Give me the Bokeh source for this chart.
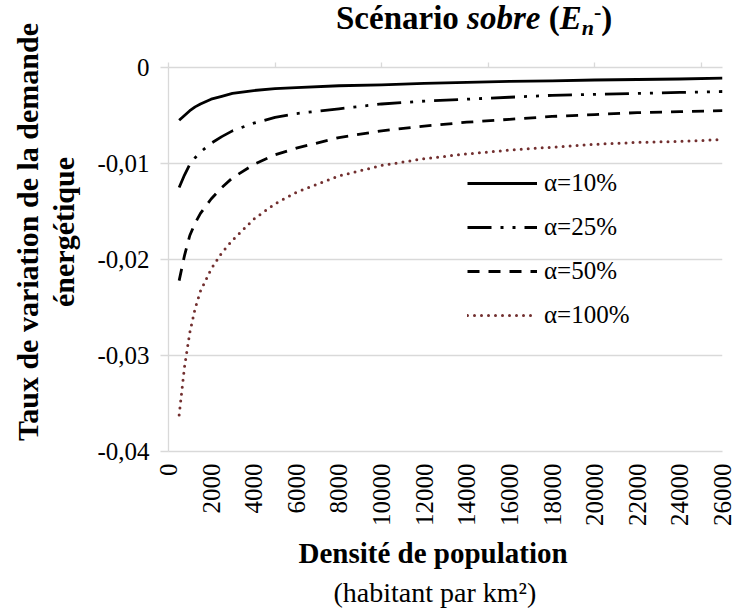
from math import pi

from bokeh.plotting import figure
from bokeh.layouts import column, row
from bokeh.models import FixedTicker, LinearAxis, Legend, LegendItem, Range1d, Title, Div
from bokeh.embed import file_html
from bokeh.resources import INLINE

# ---------------- data ----------------
DENSITE = [500, 750, 1000, 1250, 1500, 2000, 2500, 3000, 4000, 5000, 6000,
           8000, 10000, 12000, 14000, 16000, 18000, 20000, 22000, 24000, 26000]

ALPHA_10 = [-0.0055, -0.0050, -0.0045, -0.0041, -0.0038, -0.0033, -0.0030, -0.0027,
            -0.0024, -0.0022, -0.0021, -0.0019, -0.0018, -0.00165, -0.00155, -0.00145,
            -0.0014, -0.0013, -0.00125, -0.0012, -0.0011]
ALPHA_25 = [-0.0125, -0.0112, -0.0101, -0.0094, -0.0088, -0.0079, -0.0072, -0.0066,
            -0.0058, -0.0052, -0.0048, -0.0043, -0.0038, -0.0035, -0.0033, -0.0031,
            -0.0029, -0.0028, -0.0027, -0.0026, -0.0025]
ALPHA_50 = [-0.0222, -0.0196, -0.0175, -0.0162, -0.0152, -0.0137, -0.0125, -0.0115,
            -0.0101, -0.0091, -0.0084, -0.0073, -0.0066, -0.0061, -0.0057, -0.0054,
            -0.0051, -0.0049, -0.0047, -0.0046, -0.0045]
ALPHA_100 = [-0.0362, -0.0312, -0.0276, -0.0251, -0.0233, -0.0210, -0.0193, -0.0180,
             -0.0158, -0.0142, -0.0130, -0.0113, -0.0102, -0.0095, -0.0090, -0.0086,
             -0.0083, -0.0080, -0.0078, -0.0077, -0.0075]

SERIES_LABELS = ["α=10%", "α=25%", "α=50%", "α=100%"]

X_TICKS = [0, 2000, 4000, 6000, 8000, 10000, 12000, 14000, 16000, 18000,
           20000, 22000, 24000, 26000]
X_TICK_LABELS = ["0", "2000", "4000", "6000", "8000", "10000", "12000", "14000",
                 "16000", "18000", "20000", "22000", "24000", "26000"]
TOP_TICKS = [0, 5000, 10000, 15000, 20000, 25000]
Y_TICKS = [0, -0.01, -0.02, -0.03, -0.04]
Y_TICK_LABELS = ["0", "-0,01", "-0,02", "-0,03", "-0,04"]

TITLE_MAIN = "Scénario"
TITLE_ITALIC = "sobre"
TITLE_SYMBOL = "E"
TITLE_SUB = "n"
TITLE_SUP = "-"
X_TITLE = "Densité de population"
X_SUBTITLE = "(habitant par km²)"
Y_TITLE_1 = "Taux de variation de la demande"
Y_TITLE_2 = "énergétique"

# ---------------- styles ----------------
FONT = "Liberation Serif"
GRAY = "#D9D9D9"
TICK_SIZE = "25px"

TITLE_H = 46
YLAB_W = 80
FIG_H = 21 + 384 + 159
TOTAL_W = 737

title_html = (
    f'<div style="position:relative;width:{TOTAL_W}px;height:{TITLE_H}px">'
    f'<span style="position:absolute;left:336px;top:2px;white-space:nowrap;'
    f'font-family:\'{FONT}\';font-size:33px;line-height:33px;font-weight:bold;color:black">'
    f'{TITLE_MAIN} <i>{TITLE_ITALIC}</i> (<i>{TITLE_SYMBOL}</i>'
    f'<i style="font-size:22px;position:relative;top:6px">{TITLE_SUB}</i>'
    f'<span style="font-size:22px;position:relative;top:-10px">{TITLE_SUP}</span>)'
    f'</span></div>'
)
title_div = Div(text=title_html, width=TOTAL_W, height=TITLE_H, margin=0)

ylab_html = (
    f'<div style="position:relative;width:{YLAB_W}px;height:{FIG_H}px">'
    f'<div style="position:absolute;left:46px;top:186px;'
    f'transform:translate(-50%,-50%) rotate(-90deg);white-space:nowrap;text-align:center;'
    f'font-family:\'{FONT}\';font-size:30px;line-height:36px;font-weight:bold;color:black">'
    f'{Y_TITLE_1}<br>{Y_TITLE_2}</div></div>'
)
ylab_div = Div(text=ylab_html, width=YLAB_W, height=FIG_H, margin=0)

p = figure(frame_width=554, frame_height=384,
           x_range=Range1d(0, 26000), y_range=Range1d(-0.04, 0),
           output_backend="svg", toolbar_location=None, tools="",
           min_border_left=168 - YLAB_W, min_border_right=15,
           min_border_top=21, min_border_bottom=159, margin=0)
p.outline_line_color = None
p.background_fill_color = "white"
p.border_fill_color = "white"

# bottom axis
xa = p.xaxis[0]
xa.ticker = FixedTicker(ticks=X_TICKS)
xa.major_label_overrides = dict(zip(X_TICKS, X_TICK_LABELS))
xa.major_label_orientation = pi / 2
xa.major_tick_line_color = None
xa.major_tick_out = 0
xa.major_tick_in = 0
xa.minor_tick_line_color = None
xa.axis_line_color = GRAY
xa.axis_line_width = 1.3
xa.major_label_standoff = 12
xa.major_label_text_font = FONT
xa.major_label_text_font_size = TICK_SIZE
xa.major_label_text_color = "black"

# x axis titles (two lines, different styles)
p.add_layout(Title(text=X_TITLE, align="left", offset=130, text_font=FONT,
                   text_font_size="29px", text_font_style="bold",
                   text_color="black", standoff=11), "below")
p.add_layout(Title(text=X_SUBTITLE, align="left", offset=165, text_font=FONT,
                   text_font_size="28px", text_font_style="normal",
                   text_color="black", standoff=0), "below")

# left axis
ya = p.yaxis[0]
ya.ticker = FixedTicker(ticks=Y_TICKS)
ya.major_label_overrides = dict(zip(Y_TICKS, Y_TICK_LABELS))
ya.major_tick_out = 8
ya.major_tick_in = 0
ya.major_tick_line_color = GRAY
ya.major_tick_line_width = 1.3
ya.minor_tick_line_color = None
ya.axis_line_color = GRAY
ya.axis_line_width = 1.3
ya.major_label_standoff = 11
ya.major_label_text_font = FONT
ya.major_label_text_font_size = TICK_SIZE
ya.major_label_text_color = "black"

# top axis (line at y = 0 with small ticks)
top = LinearAxis(ticker=FixedTicker(ticks=TOP_TICKS),
                 major_label_overrides={t: "" for t in TOP_TICKS},
                 axis_line_color=GRAY, axis_line_width=1.3,
                 major_tick_line_color=GRAY, major_tick_line_width=1.3,
                 major_tick_out=5, major_tick_in=0,
                 minor_tick_line_color=None)
p.add_layout(top, "above")

p.xgrid.visible = False
p.ygrid.ticker = FixedTicker(ticks=Y_TICKS)
p.ygrid.grid_line_color = GRAY
p.ygrid.grid_line_width = 1.3

# series
r1 = p.line(DENSITE, ALPHA_10, line_color="black", line_width=2.8,
            line_join="round")
r2 = p.line(DENSITE, ALPHA_25, line_color="black", line_width=2.8,
            line_dash="24 9 3 9 3 9", line_cap="butt")
r3 = p.line(DENSITE, ALPHA_50, line_color="black", line_width=2.8,
            line_dash="12 9", line_cap="butt")
r4 = p.line(DENSITE, ALPHA_100, line_color="#722F2F", line_width=3,
            line_dash="0 7", line_cap="round")

legend = Legend(items=[LegendItem(label=lab, renderers=[r])
                       for lab, r in zip(SERIES_LABELS, [r1, r2, r3, r4])],
                location=(299, 114), glyph_width=70, glyph_height=44,
                spacing=0, padding=0, margin=0, label_standoff=7,
                border_line_color=None, background_fill_alpha=0,
                label_text_font=FONT, label_text_font_size=TICK_SIZE,
                label_text_color="black")
p.add_layout(legend)

layout = column(title_div, row(ylab_div, p, spacing=0, margin=0), spacing=0, margin=0)

open("out.html", "w").write(file_html(layout, INLINE))
